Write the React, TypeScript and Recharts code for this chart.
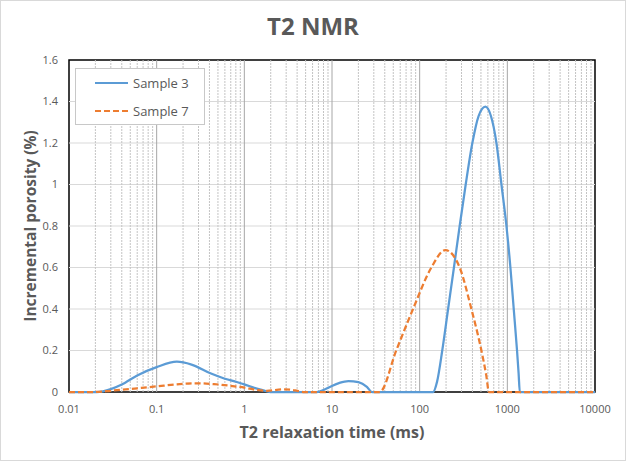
import { LineChart, Line, XAxis, YAxis, ReferenceLine, ReferenceArea, Legend } from 'recharts';

const xTicks = [0.01, 0.1, 1, 10, 100, 1000, 10000];
const yTicks = [0, 0.2, 0.4, 0.6, 0.8, 1, 1.2, 1.4, 1.6];
const minorSteps = [2, 3, 4, 5, 6, 7, 8, 9];

const sample3T = [0.01, 0.0207, 0.03, 0.04, 0.06, 0.1, 0.17, 0.25, 0.41, 0.6, 0.82, 1, 1.3, 1.65, 1.97, 6.7, 9, 12, 15.4, 20, 25, 28.5, 142, 158, 181, 211, 246, 286, 335, 399, 470, 562, 650, 751, 857, 977, 1084, 1183, 1290, 1345, 1387, 10000];
const sample3V = [0, 0, 0.014, 0.036, 0.08, 0.12, 0.146, 0.132, 0.09, 0.064, 0.048, 0.037, 0.02, 0.008, 0, 0, 0.02, 0.043, 0.053, 0.048, 0.025, 0, 0, 0.05, 0.2, 0.4, 0.6, 0.8, 1.0, 1.2, 1.33, 1.375, 1.33, 1.2, 1.0, 0.8, 0.6, 0.4, 0.2, 0.09, 0, 0];

const sample7T = [0.01, 0.02, 0.03, 0.06, 0.1, 0.17, 0.29, 0.45, 0.82, 1, 1.39, 1.8, 2.79, 3.8, 4.7, 35, 54, 84, 136, 196, 240, 286, 389, 506, 575, 617, 10000];
const sample7V = [0, 0, 0.006, 0.018, 0.027, 0.037, 0.042, 0.038, 0.026, 0.021, 0.01, 0.006, 0.013, 0.008, 0, 0, 0.2, 0.4, 0.6, 0.684, 0.66, 0.6, 0.4, 0.2, 0.08, 0, 0];

const series = [
  { name: 'Sample 3', color: '#5B9BD5', dash: undefined as string | undefined },
  { name: 'Sample 7', color: '#ED7D31', dash: '6 3' },
];

const sample3 = sample3T.map((t, i) => ({ t, v: sample3V[i] }));
const sample7 = sample7T.map((t, i) => ({ t, v: sample7V[i] }));

const minorLines = xTicks.slice(0, -1).flatMap((d) => minorSteps.map((k) => d * k));

const font = '"Open Sans", sans-serif';
const textColor = '#595959';

const LegendBox = () => (
  <div style={{ width: 128, height: 55, border: '1px solid #c8c8c8', background: '#fff', fontFamily: font }}>
    {series.map((s, i) => (
      <div key={s.name} style={{ position: 'absolute', left: 0, top: i === 0 ? 6 : 34, height: 18, display: 'flex', alignItems: 'center' }}>
        <svg width={58} height={18}>
          <line x1={20} x2={53} y1={9} y2={9} stroke={s.color} strokeWidth={2} strokeDasharray={s.dash} />
        </svg>
        <span style={{ fontSize: 13, color: textColor }}>{s.name}</span>
      </div>
    ))}
  </div>
);

const YLabel = ({ viewBox }: any) => {
  const cy = viewBox.y + viewBox.height / 2;
  return (
    <text x={30} y={cy} transform={`rotate(-90, 30, ${cy})`} textAnchor="middle" dominantBaseline="central"
      fill={textColor} fontSize={15.5} fontWeight="bold" fontFamily={font}>
      Incremental porosity (%)
    </text>
  );
};

const XLabel = ({ viewBox }: any) => {
  const cx = viewBox.x + viewBox.width / 2;
  return (
    <text x={cx} y={432} textAnchor="middle" dominantBaseline="central"
      fill={textColor} fontSize={16} fontWeight="bold" fontFamily={font}>
      T2 relaxation time (ms)
    </text>
  );
};

export default function App() {
  return (
    <div style={{ position: 'absolute', left: 0, top: 0, width: 626, height: 461, background: '#fff', fontFamily: font }}>
      <div style={{ position: 'absolute', top: 14, left: 0, width: 626, textAlign: 'center', fontSize: 24, lineHeight: '24px', fontWeight: 'bold', color: textColor }}>
        T2 NMR
      </div>
      <LineChart width={626} height={461} margin={{ top: 60, right: 31, bottom: 0, left: 0 }}>
        <XAxis dataKey="t" type="number" scale="log" domain={[0.01, 10000]} ticks={xTicks} allowDataOverflow
          tickFormatter={(v) => String(v)} tickLine={false} axisLine={false} height={69} tickMargin={7}
          tick={{ fill: textColor, fontSize: 11, fontFamily: font }} label={<XLabel />} />
        <YAxis type="number" domain={[0, 1.6]} ticks={yTicks} width={69} tickLine={false} axisLine={false}
          tickMargin={5} tick={{ fill: textColor, fontSize: 11, fontFamily: font }} label={<YLabel />} />
        {yTicks.slice(1, -1).map((y) => (
          <ReferenceLine key={'h' + y} y={y} stroke="#d9d9d9" strokeWidth={1} />
        ))}
        {minorLines.map((x) => (
          <ReferenceLine key={'m' + x} x={x} stroke="#c4c4c4" strokeWidth={1} strokeDasharray="2 1" />
        ))}
        {xTicks.slice(1, -1).map((x) => (
          <ReferenceLine key={'v' + x} x={x} stroke="#a6a6a6" strokeWidth={1} />
        ))}
        <ReferenceArea x1={0.01} x2={10000} y1={0} y2={1.6} fill="none" fillOpacity={0} stroke="#000" strokeWidth={1.5} />
        <Legend layout="vertical" align="center" verticalAlign="middle" content={<LegendBox />}
          wrapperStyle={{ left: 75, top: 68, width: 130, height: 57 }} />
        <Line data={sample3} dataKey="v" name="Sample 3" type="monotone" stroke="#5B9BD5" strokeWidth={2.25} dot={false} isAnimationActive={false} />
        <Line data={sample7} dataKey="v" name="Sample 7" type="monotone" stroke="#ED7D31" strokeWidth={2.25} strokeDasharray="6 3" dot={false} isAnimationActive={false} />
      </LineChart>
      <div style={{ position: 'absolute', inset: 0, border: '1px solid #d9d9d9', pointerEvents: 'none' }} />
    </div>
  );
}
